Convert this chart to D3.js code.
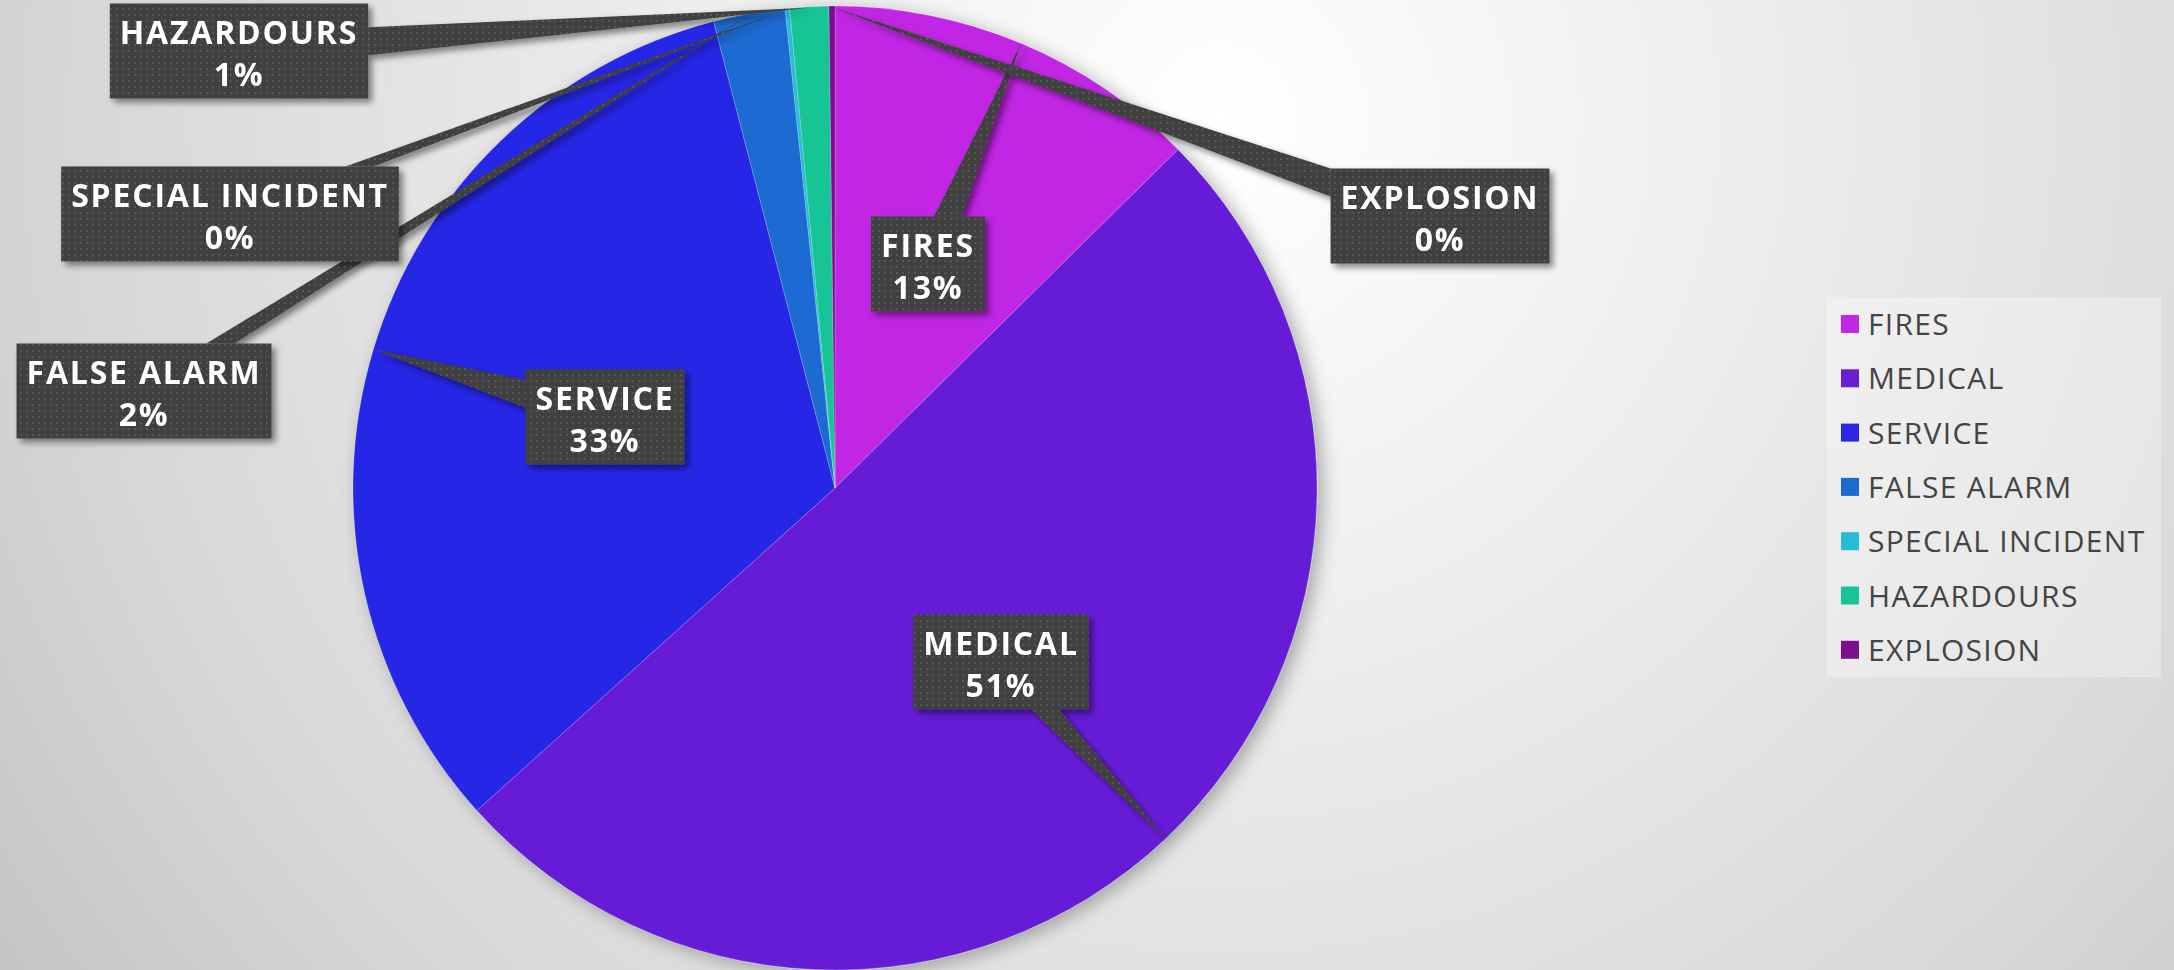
<!DOCTYPE html>
<html>
<head>
<meta charset="utf-8">
<title>Incident types</title>
<script src="https://cdn.jsdelivr.net/npm/d3@7/dist/d3.min.js"></script>
<style>
  html, body { margin: 0; padding: 0; overflow: hidden; }
  body { width: 2174px; height: 970px; }
  .lbl { font-family: "Open Sans", sans-serif; font-weight: 700; fill: #fff; letter-spacing: 1.8px; }
  .leg { font-family: "Open Sans", sans-serif; font-weight: 400; fill: #444; letter-spacing: 1.3px; }
</style>
</head>
<body>
<div id="chart"></div>
<script>
// data
var categories = ["FIRES", "MEDICAL", "SERVICE", "FALSE ALARM", "SPECIAL INCIDENT", "HAZARDOURS", "EXPLOSION"];
var values = [12.6, 50.7, 32.6, 2.4, 0.15, 1.3, 0.2];
var colors = ["#c026e3", "#661fd6", "#2828e6", "#1a6ad2", "#26bcd8", "#16c495", "#7b0f8e"];

// where the callout boxes sit (centre x, centre y)
var labelPos = [[928, 264], [1001, 662], [605, 417], [144, 391], [230, 214], [239, 51], [1440, 216]];

var W = 2174, H = 970;
var cx = 835, cy = 488, R = 482;

var svg = d3.select("#chart").append("svg")
  .attr("width", W).attr("height", H);

var defs = svg.append("defs");

var bg = defs.append("radialGradient").attr("id", "bg")
  .attr("gradientUnits", "userSpaceOnUse")
  .attr("cx", 1220).attr("cy", 120).attr("r", 1500);
bg.append("stop").attr("offset", 0).attr("stop-color", "#ffffff");
bg.append("stop").attr("offset", 0.3).attr("stop-color", "#f0f0f0");
bg.append("stop").attr("offset", 0.75).attr("stop-color", "#d8d8d8");
bg.append("stop").attr("offset", 1).attr("stop-color", "#c4c4c4");

var pat = defs.append("pattern").attr("id", "dots")
  .attr("patternUnits", "userSpaceOnUse").attr("width", 6).attr("height", 6);
pat.append("rect").attr("width", 6).attr("height", 6).attr("fill", "#404040");
pat.append("rect").attr("x", 2).attr("y", 2).attr("width", 2).attr("height", 2).attr("fill", "#575757");

var sh = defs.append("filter").attr("id", "shadow")
  .attr("x", "-20%").attr("y", "-20%").attr("width", "140%").attr("height", "140%");
sh.append("feDropShadow").attr("dx", 4).attr("dy", 4).attr("stdDeviation", 3)
  .attr("flood-color", "#000").attr("flood-opacity", 0.45);

var pieSh = defs.append("filter").attr("id", "pieshadow")
  .attr("x", "-10%").attr("y", "-10%").attr("width", "120%").attr("height", "120%");
pieSh.append("feDropShadow").attr("dx", 6).attr("dy", 4).attr("stdDeviation", 9)
  .attr("flood-color", "#000").attr("flood-opacity", 0.3);

svg.append("rect").attr("width", W).attr("height", H).attr("fill", "url(#bg)");

// pie
var pie = d3.pie().sort(null).value(function(d) { return d; });
var arcs = pie(values);
var arc = d3.arc().innerRadius(0).outerRadius(R);

var g = svg.append("g").attr("transform", "translate(" + cx + "," + cy + ")");
g.append("g").attr("filter", "url(#pieshadow)")
  .selectAll("path").data(arcs).enter().append("path")
  .attr("d", arc)
  .attr("fill", function(d, i) { return colors[i]; })
  .attr("stroke", "rgba(255,255,255,0.25)")
  .attr("stroke-width", 0.8);

// callouts
var total = d3.sum(values);
var pct = function(v) { return Math.round(v / total * 100) + "%"; };

var labels = svg.append("g");
arcs.forEach(function(d, i) {
  var a = (d.startAngle + d.endAngle) / 2;
  var tip = [cx + (R - 1) * Math.sin(a), cy - (R - 1) * Math.cos(a)];
  var grp = labels.append("g").attr("filter", "url(#shadow)");
  var wedge = grp.append("path").attr("fill", "url(#dots)");
  var box = grp.append("rect").attr("fill", "url(#dots)");
  var t1 = grp.append("text").attr("class", "lbl").attr("text-anchor", "middle")
    .attr("font-size", 32).text(categories[i]);
  var t2 = grp.append("text").attr("class", "lbl").attr("text-anchor", "middle")
    .attr("font-size", 32).text(pct(values[i]));
  var tw = Math.max(t1.node().getComputedTextLength(), t2.node().getComputedTextLength());
  var bw = tw + 20, bh = 95;
  var p = labelPos[i];
  var x0 = p[0] - bw / 2, y0 = p[1] - bh / 2, x1 = x0 + bw, y1 = y0 + bh;
  box.attr("x", x0).attr("y", y0).attr("width", bw).attr("height", bh);
  t1.attr("x", p[0]).attr("y", y0 + 40);
  t2.attr("x", p[0]).attr("y", y0 + 82);

  // where the line centre->tip leaves the box
  var dx = tip[0] - p[0], dy = tip[1] - p[1];
  var tx = dx !== 0 ? (bw / 2) / Math.abs(dx) : Infinity;
  var ty = dy !== 0 ? (bh / 2) / Math.abs(dy) : Infinity;
  var hw = 14, b1, b2;
  if (tx < ty) {
    var ex = dx > 0 ? x1 : x0;
    var ey = Math.max(y0 + hw, Math.min(y1 - hw, p[1] + dy * tx));
    b1 = [ex, ey - hw]; b2 = [ex, ey + hw];
  } else {
    var ey2 = dy > 0 ? y1 : y0;
    var ex2 = Math.max(x0 + hw, Math.min(x1 - hw, p[0] + dx * ty));
    b1 = [ex2 - hw, ey2]; b2 = [ex2 + hw, ey2];
  }
  wedge.attr("d", "M" + b1 + "L" + tip + "L" + b2 + "Z");
});

// legend
var lx = 1827, ly = 297, lw = 334, lh = 380, step = 54.3;
var leg = svg.append("g");
leg.append("rect").attr("x", lx).attr("y", ly).attr("width", lw).attr("height", lh)
  .attr("fill", "#ffffff").attr("fill-opacity", 0.3);
var items = leg.selectAll("g.item").data(categories).enter().append("g")
  .attr("transform", function(d, i) { return "translate(" + (lx + 14) + "," + (ly + 27 + i * step) + ")"; });
items.append("rect").attr("x", 0).attr("y", -9).attr("width", 18).attr("height", 18)
  .attr("fill", function(d, i) { return colors[i]; });
items.append("text").attr("class", "leg").attr("x", 27).attr("y", 11)
  .attr("font-size", 30).text(function(d) { return d; });
</script>
</body>
</html>
